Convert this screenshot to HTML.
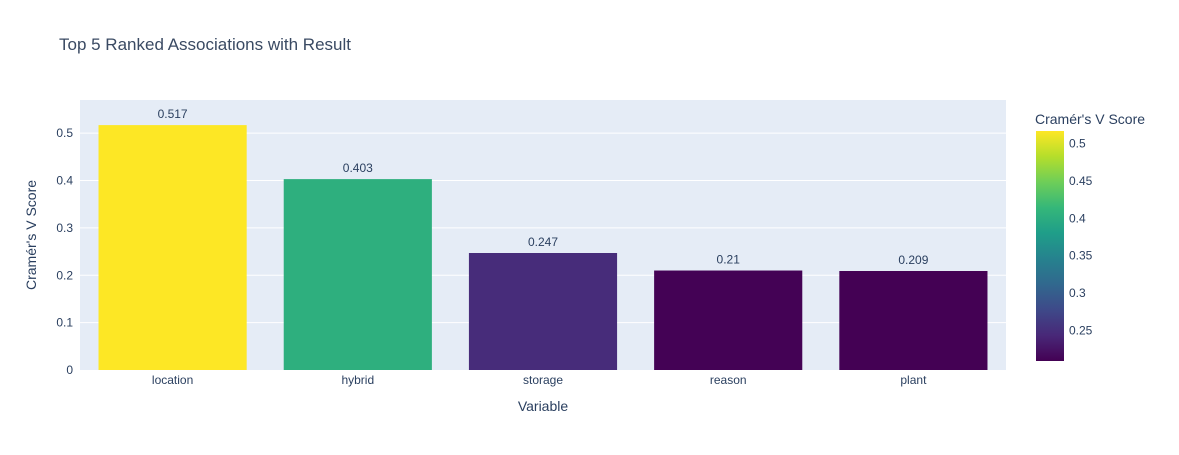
<!DOCTYPE html>
<html><head><meta charset="utf-8"><style>
body{margin:0;background:#fff;font-family:"Liberation Sans",Arial,sans-serif;}
svg text{font-family:"Liberation Sans",Arial,sans-serif;}
</style></head><body>
<svg id="chart" width="1179" height="450" xmlns="http://www.w3.org/2000/svg">
<defs>
<linearGradient id="vir" x1="0" y1="1" x2="0" y2="0">
<stop offset="0" stop-color="#440154"/><stop offset="0.111" stop-color="#482878"/>
<stop offset="0.222" stop-color="#3e4989"/><stop offset="0.333" stop-color="#31688e"/>
<stop offset="0.444" stop-color="#26828e"/><stop offset="0.556" stop-color="#1f9e89"/>
<stop offset="0.667" stop-color="#35b779"/><stop offset="0.778" stop-color="#6ece58"/>
<stop offset="0.889" stop-color="#b5de2b"/><stop offset="1" stop-color="#fde725"/>
</linearGradient>
</defs>
<text x="59" y="50" font-size="17" fill="#3a4a63">Top 5 Ranked Associations with Result</text>
<rect x="80" y="100" width="926" height="270" fill="#e5ecf6"/>
<g id="grid"></g>
<g id="bars"></g>
<g id="xlabels"></g>
<text x="543" y="411" font-size="14" fill="#2a3f5f" text-anchor="middle">Variable</text>
<text transform="translate(36,235) rotate(-90)" font-size="14" fill="#2a3f5f" text-anchor="middle">Cramér's V Score</text>
<text x="1035" y="124" font-size="14" fill="#2a3f5f">Cramér's V Score</text>
<g id="cbar"></g>
</svg>
<script>
const categories=["location","hybrid","storage","reason","plant"];
const values=[0.517,0.403,0.247,0.21,0.209];
const labels=["0.517","0.403","0.247","0.21","0.209"];
const yTicks=[0,0.1,0.2,0.3,0.4,0.5];
const cbTicks=[0.25,0.3,0.35,0.4,0.45,0.5];
const NS="http://www.w3.org/2000/svg";
const X0=80,W=926,Y0=370,YTOP=100,YMAX=0.570;
const y=v=>Y0-v/YMAX*(Y0-YTOP);
const band=W/categories.length;
const vmin=Math.min(...values),vmax=Math.max(...values);
const stops=[[68,1,84],[72,40,120],[62,73,137],[49,104,142],[38,130,142],[31,158,137],[53,183,121],[110,206,88],[181,222,43],[253,231,37]];
function vir(t){t=Math.max(0,Math.min(1,t))*9;const i=Math.min(8,Math.floor(t)),f=t-i;const a=stops[i],b=stops[i+1];return `rgb(${a.map((c,k)=>Math.round(c+(b[k]-c)*f)).join(",")})`;}
function mk(tag,attrs,parent,text){const e=document.createElementNS(NS,tag);for(const k in attrs)e.setAttribute(k,attrs[k]);if(text!==undefined)e.textContent=text;document.getElementById(parent).appendChild(e);return e;}
yTicks.forEach(t=>{
 if(t>0){const l=mk("line",{x1:X0,x2:X0+W,y1:y(t),y2:y(t),stroke:"#fff","stroke-width":1},"grid");
 
 }
 const tx=mk("text",{x:X0-7,y:y(t)+4,"font-size":12,fill:"#2a3f5f","text-anchor":"end"},"grid",String(t));
 
 
});
categories.forEach((c,i)=>{
 const cx=X0+band*(i+0.5),bw=band*0.8,v=values[i];
 const r=mk("rect",{x:cx-bw/2,y:y(v),width:bw,height:Y0-y(v),fill:vir((v-vmin)/(vmax-vmin))},"bars");
 
 
 const t=mk("text",{x:cx,y:y(v)-7,"font-size":12,fill:"#2a3f5f","text-anchor":"middle"},"bars",labels[i]);
 
 
 const xl=mk("text",{x:cx,y:Y0+14,"font-size":12,fill:"#2a3f5f","text-anchor":"middle"},"xlabels",c);
 
 
});
const CT=131,CB=361,cy=v=>CB-(v-vmin)/(vmax-vmin)*(CB-CT);
const cb=mk("rect",{x:1036,y:CT,width:28,height:CB-CT,fill:"url(#vir)"},"cbar");


cbTicks.forEach(t=>{
 const tx=mk("text",{x:1069,y:cy(t)+4,"font-size":12,fill:"#2a3f5f"},"cbar",String(t));
 
 
});
</script>
</body></html>
